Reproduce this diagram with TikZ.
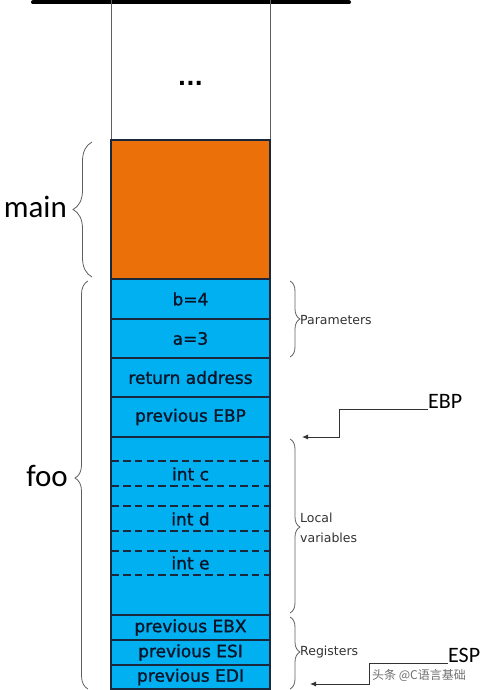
\documentclass[tikz,border=0pt]{standalone}
\usepackage{fontspec}
\setmainfont{DejaVu Sans}
\newfontfamily\cellfont[FakeBold=1.3]{DejaVu Sans}
\newfontfamily\calib{Carlito}
\newfontfamily\cjk{Noto Sans CJK SC}
\usetikzlibrary{decorations.pathreplacing,arrows.meta}
\definecolor{stackblue}{RGB}{0,176,240}
\definecolor{stackorange}{RGB}{236,112,10}
\definecolor{cellline}{RGB}{25,40,60}
\definecolor{bracegray}{RGB}{95,95,95}
\definecolor{celltext}{RGB}{10,20,40}
\definecolor{labelgray}{RGB}{50,50,50}
\definecolor{wmgray}{RGB}{110,110,110}
\tikzset{
  cell/.style={draw=cellline, line width=1.1pt, fill=stackblue, minimum width=159pt,
    inner sep=0pt, text=celltext, font=\cellfont\fontsize{17}{17}\selectfont},
  celltxt/.style={inner sep=0pt, text=celltext, font=\cellfont\fontsize{17}{17}\selectfont},
  dashline/.style={draw=cellline, line width=1.2pt, dash pattern=on 7.5pt off 4.2pt},
  colside/.style={draw=bracegray, line width=0.9pt},
  bracepath/.style={draw=bracegray, line width=0.8pt, decorate},
  biglabel/.style={inner sep=0pt, font=\calib\fontsize{31}{31}\selectfont},
  smalllabel/.style={inner sep=0pt, anchor=west, text=labelgray, align=left,
    font=\fontsize{12.5}{20}\selectfont},
  reglabel/.style={inner sep=0pt, anchor=south west, font=\calib\fontsize{22}{22}\selectfont},
  pointer/.style={draw=labelgray, line width=0.9pt, -{Latex[length=6pt,width=5pt]}}
}
\begin{document}
\begin{tikzpicture}[x=1pt,y=-1pt]
\useasboundingbox (0,0) rectangle (480,690);
% top bar
\draw[line width=4pt, line cap=round] (33,2.5) -- (349,2.5);
% upper white region
\draw[colside] (111,0) -- (111,140);
\draw[colside] (270,0) -- (270,140);
\node[inner sep=0pt, font=\bfseries\fontsize{22}{22}\selectfont] (dots) at (190.5,83) {...};
% main frame
\node[cell, fill=stackorange, minimum height=139pt] (mainframe) at (190.5,209.5) {};
% foo frame cells
\node[cell, minimum height=40pt] (b4) at (190.5,299) {b=4};
\node[cell, minimum height=39pt] (a3) at (190.5,338.5) {a=3};
\node[cell, minimum height=39pt] (ret) at (190.5,377.5) {return address};
\node[cell, minimum height=40pt] (pebp) at (190.5,417) {previous EBP};
\node[cell, minimum height=178pt] (locals) at (190.5,526) {};
\draw[dashline] (111.5,461) -- (269.5,461);
\draw[dashline] (111.5,486) -- (269.5,486);
\draw[dashline] (111.5,506) -- (269.5,506);
\draw[dashline] (111.5,531) -- (269.5,531);
\draw[dashline] (111.5,551) -- (269.5,551);
\draw[dashline] (111.5,575) -- (269.5,575);
\node[celltxt] (intc) at (190.5,474) {int c};
\node[celltxt] (intd) at (190.5,519) {int d};
\node[celltxt] (inte) at (190.5,563) {int e};
\node[cell, minimum height=25pt] (pebx) at (190.5,627.5) {previous EBX};
\node[cell, minimum height=25pt] (pesi) at (190.5,652.5) {previous ESI};
\node[cell, minimum height=24pt] (pedi) at (190.5,677) {previous EDI};
% left braces
\draw[bracepath, decoration={brace, amplitude=19pt}] (92,277) -- (92,142);
\draw[bracepath, decoration={brace, amplitude=13pt, aspect=0.517}] (88,689) -- (88,281);
\node[biglabel, anchor=east] (mainlabel) at (67,207) {main};
\node[biglabel, anchor=east] (foolabel) at (68,476) {foo};
% right braces
\draw[bracepath, decoration={brace, amplitude=10pt}] (290,281) -- (290,357);
\draw[bracepath, decoration={brace, amplitude=10pt, aspect=0.506}] (290,439) -- (290,613);
\draw[bracepath, decoration={brace, amplitude=10pt, aspect=0.486}] (290,617) -- (290,689);
\node[smalllabel] (params) at (300,320) {Parameters};
\node[smalllabel] (localvars) at (300,528) {Local\\variables};
\node[smalllabel] (regs) at (300,652) {Registers};
% EBP pointer
\node[reglabel] (ebp) at (428,409) {EBP};
\coordinate (ebpbendA) at (339,409);
\coordinate (ebpbendB) at (339,437);
\coordinate (ebptip) at (302,437);
\draw[pointer] (ebp.south west) -- (ebpbendA) -- (ebpbendB) -- (ebptip);
% ESP pointer
\node[reglabel] (esp) at (448,663) {ESP};
\coordinate (espbendA) at (369,663);
\coordinate (espbendB) at (369,684);
\coordinate (esptip) at (310,684);
\draw[pointer] (esp.south west) -- (espbendA) -- (espbendB) -- (esptip);
% watermark
\node[inner sep=0pt, anchor=west, text=wmgray, font=\cjk\fontsize{12}{12}\selectfont] (wm) at (372,675) {头条 @C语言基础};
\end{tikzpicture}
\end{document}
